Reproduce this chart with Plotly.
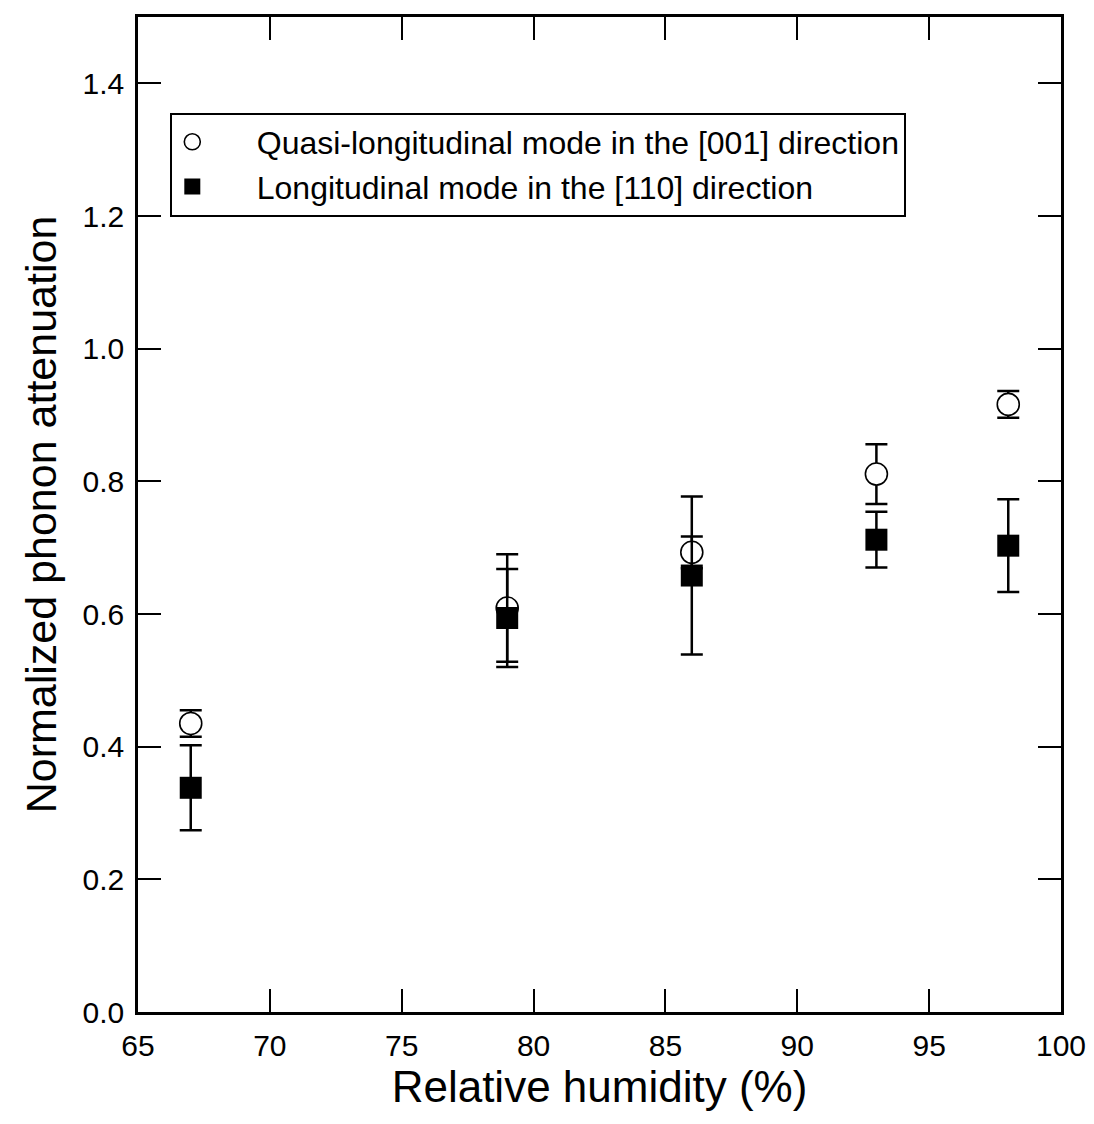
import plotly.graph_objects as go

humidity = [67, 79, 86, 93, 98]
quasi_long_001 = [0.435, 0.609, 0.693, 0.811, 0.916]
quasi_long_001_err = [0.020, 0.081, 0.024, 0.045, 0.020]
long_110 = [0.338, 0.594, 0.658, 0.712, 0.703]
long_110_err = [0.064, 0.074, 0.119, 0.042, 0.070]

x_ticks = [65, 70, 75, 80, 85, 90, 95, 100]
y_ticks = [0.0, 0.2, 0.4, 0.6, 0.8, 1.0, 1.2, 1.4]

FONT = "Liberation Sans, Arial, sans-serif"
PAD = "\u00a0" * 5

fig = go.Figure()
fig.add_trace(go.Scatter(
    x=humidity, y=quasi_long_001, mode="markers",
    name=PAD + "Quasi-longitudinal mode in the [001] direction",
    marker=dict(symbol="circle", size=22, color="white", line=dict(color="black", width=1.6)),
    error_y=dict(type="data", array=quasi_long_001_err, visible=True, color="black", thickness=2.5, width=11),
))
fig.add_trace(go.Scatter(
    x=humidity, y=long_110, mode="markers",
    name=PAD + "Longitudinal mode in the [110] direction",
    marker=dict(symbol="square", size=22, color="black", line=dict(color="black", width=0)),
    error_y=dict(type="data", array=long_110_err, visible=True, color="black", thickness=2.5, width=11),
))

axis_common = dict(
    showline=True, linecolor="black", linewidth=2.5, mirror="ticks",
    ticks="inside", ticklen=23, tickwidth=2, tickcolor="black",
    showgrid=False, zeroline=False, ticklabelstandoff=5,
    tickfont=dict(family=FONT, size=30, color="black"),
)

fig.update_xaxes(range=[65, 100], tickvals=x_ticks, ticktext=[str(v) for v in x_ticks],
                 title=dict(text="Relative humidity (%)", font=dict(family=FONT, size=44, color="black"), standoff=0),
                 **axis_common)
fig.update_yaxes(range=[0, 1.5], tickvals=y_ticks, ticktext=[f"{v:.1f}" for v in y_ticks],
                 title=dict(text="Normalized phonon attenuation", font=dict(family=FONT, size=43, color="black"), standoff=13),
                 **axis_common)

fig.update_layout(
    width=1086, height=1116,
    margin=dict(l=130, r=33, t=6, b=112),
    plot_bgcolor="white", paper_bgcolor="white",
    font=dict(family=FONT, color="black"),
    legend=dict(x=0.035, y=0.904, xanchor="left", yanchor="top",
                bgcolor="white", bordercolor="black", borderwidth=2,
                font=dict(family=FONT, size=32, color="black"),
                itemwidth=30, tracegroupgap=0),
)

fig.write_html("out.html")
